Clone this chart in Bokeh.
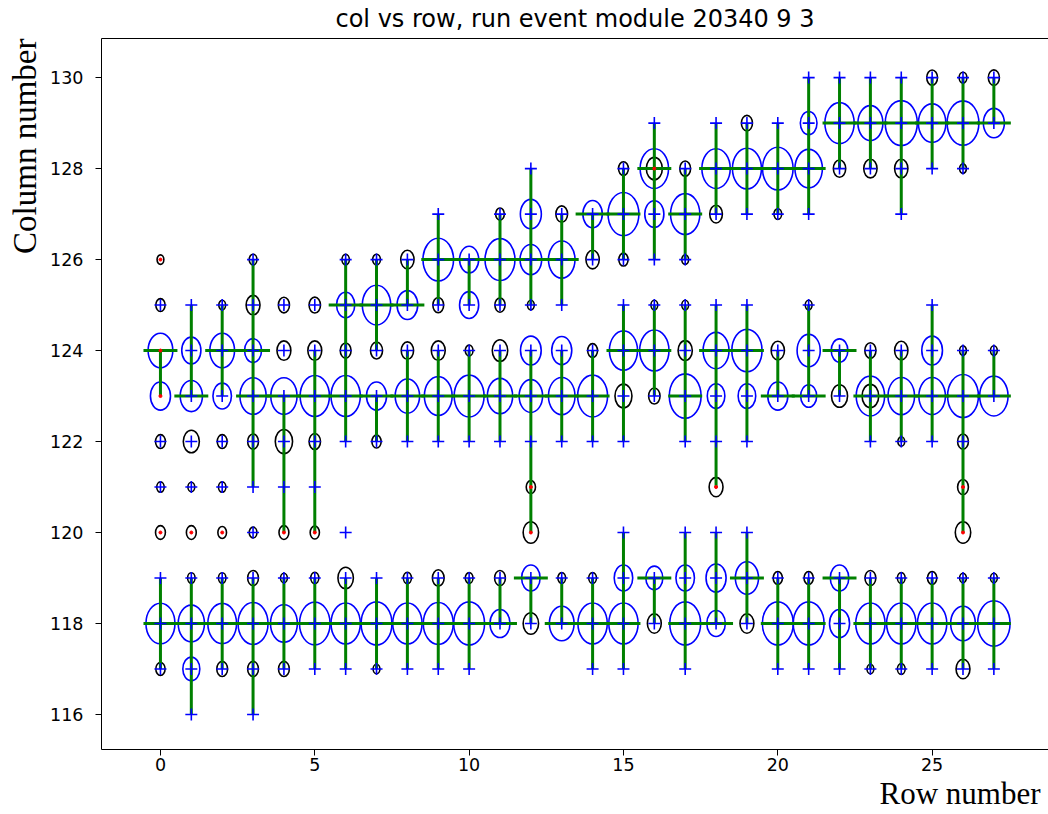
from bokeh.plotting import figure
from bokeh.models import ColumnDataSource, FixedTicker, LinearAxis, Title, Range1d
from bokeh.embed import file_html
from bokeh.resources import INLINE

TITLE = "col vs row, run event module 20340 9 3"
X_LABEL = "Row number"
Y_LABEL = "Column number"
x_ticks = [0, 5, 10, 15, 20, 25]
y_ticks = [116, 118, 120, 122, 124, 126, 128, 130]

# blue ellipses: (row, column, diameter in data units)
blue = [
    (0, 124, 0.80), (0, 123, 0.65), (0, 118, 0.94),
    (1, 124, 0.62), (1, 123, 0.72), (1, 118, 0.85), (1, 117, 0.55),
    (2, 124, 0.80), (2, 123, 0.60), (2, 118, 0.93),
    (3, 124, 0.55), (3, 123, 0.85), (3, 118, 0.97),
    (4, 123, 0.85), (4, 118, 0.87),
    (5, 123, 0.95), (5, 118, 0.99),
    (6, 125, 0.59), (6, 123, 0.95), (6, 118, 0.95),
    (7, 125, 0.92), (7, 123, 0.65), (7, 118, 1.00),
    (8, 125, 0.67), (8, 123, 0.79), (8, 118, 0.95),
    (9, 126, 0.99), (9, 123, 0.90), (9, 118, 0.97),
    (10, 126, 0.62), (10, 125, 0.62), (10, 123, 0.97), (10, 118, 1.00),
    (11, 126, 0.97), (11, 123, 0.82), (11, 118, 0.65),
    (12, 127, 0.68), (12, 126, 0.70), (12, 124, 0.67), (12, 123, 0.76), (12, 119, 0.60),
    (13, 126, 0.86), (13, 124, 0.65), (13, 123, 0.86), (13, 118, 0.80),
    (14, 127, 0.63), (14, 123, 0.97), (14, 118, 0.95),
    (15, 127, 1.00), (15, 124, 0.91), (15, 119, 0.60), (15, 118, 0.95),
    (16, 128, 0.92), (16, 127, 0.62), (16, 124, 0.95), (16, 119, 0.55),
    (17, 127, 0.95), (17, 123, 1.03), (17, 119, 0.60), (17, 118, 1.00),
    (18, 128, 0.92), (18, 124, 0.84), (18, 123, 0.57), (18, 119, 0.65), (18, 118, 0.60),
    (19, 128, 0.94), (19, 124, 0.98), (19, 123, 0.57), (19, 119, 0.75),
    (20, 128, 0.99), (20, 123, 0.65), (20, 118, 1.00),
    (21, 129, 0.54), (21, 128, 0.89), (21, 124, 0.75), (21, 123, 0.52), (21, 118, 1.00),
    (22, 129, 0.95), (22, 124, 0.54), (22, 119, 0.60), (22, 118, 0.65),
    (23, 129, 0.81), (23, 123, 0.92), (23, 118, 0.95),
    (24, 129, 1.04), (24, 123, 0.86), (24, 118, 0.95),
    (25, 129, 0.89), (25, 124, 0.67), (25, 123, 0.86), (25, 118, 0.95),
    (26, 129, 1.03), (26, 123, 1.00), (26, 118, 0.80),
    (27, 129, 0.68), (27, 123, 0.92), (27, 118, 1.05),
]

# black circles (hits): (row, column, diameter in data units)
black = [
    (0, 126, 0.22), (0, 125, 0.30), (0, 122, 0.32), (0, 121, 0.24), (0, 120, 0.32), (0, 117, 0.30),
    (1, 122, 0.52), (1, 121, 0.22), (1, 120, 0.32), (1, 119, 0.24),
    (2, 125, 0.22), (2, 122, 0.32), (2, 121, 0.24), (2, 120, 0.28), (2, 119, 0.24), (2, 117, 0.35),
    (3, 126, 0.25), (3, 125, 0.45), (3, 122, 0.35), (3, 120, 0.25), (3, 119, 0.35), (3, 117, 0.35),
    (4, 125, 0.36), (4, 124, 0.45), (4, 122, 0.56), (4, 120, 0.32), (4, 119, 0.22), (4, 117, 0.35),
    (5, 125, 0.37), (5, 124, 0.45), (5, 122, 0.37), (5, 120, 0.30), (5, 119, 0.26),
    (6, 126, 0.24), (6, 124, 0.35), (6, 119, 0.50),
    (7, 126, 0.25), (7, 124, 0.39), (7, 122, 0.30), (7, 117, 0.22),
    (8, 126, 0.43), (8, 124, 0.40), (8, 119, 0.26),
    (9, 125, 0.35), (9, 124, 0.45), (9, 119, 0.38),
    (10, 124, 0.25), (10, 119, 0.25),
    (11, 127, 0.28), (11, 125, 0.33), (11, 124, 0.50), (11, 119, 0.35),
    (12, 125, 0.22), (12, 121, 0.30), (12, 120, 0.50), (12, 118, 0.50),
    (13, 127, 0.38), (13, 119, 0.25),
    (14, 126, 0.43), (14, 124, 0.32), (14, 119, 0.25),
    (15, 128, 0.32), (15, 126, 0.30), (15, 123, 0.55),
    (16, 128, 0.52), (16, 125, 0.22), (16, 123, 0.37), (16, 118, 0.45),
    (17, 128, 0.35), (17, 126, 0.22), (17, 125, 0.22), (17, 124, 0.46),
    (18, 127, 0.41), (18, 121, 0.45),
    (19, 129, 0.36), (19, 118, 0.45),
    (20, 127, 0.25), (20, 124, 0.43), (20, 119, 0.30),
    (21, 125, 0.22), (21, 119, 0.30),
    (22, 128, 0.40), (22, 123, 0.52),
    (23, 128, 0.43), (23, 124, 0.36), (23, 123, 0.54), (23, 119, 0.35), (23, 117, 0.22),
    (24, 128, 0.43), (24, 124, 0.43), (24, 122, 0.22), (24, 119, 0.25), (24, 117, 0.25),
    (25, 130, 0.35), (25, 119, 0.30),
    (26, 130, 0.25), (26, 128, 0.22), (26, 124, 0.22), (26, 122, 0.35), (26, 121, 0.35),
    (26, 120, 0.50), (26, 119, 0.22), (26, 117, 0.45),
    (27, 130, 0.36), (27, 124, 0.22), (27, 119, 0.22),
]

# hits drawn only with a blue "+" (no visible circle): (row, column)
plus_only = [
    (0, 119), (1, 125), (1, 116), (3, 121), (3, 116), (4, 121), (5, 121), (5, 117),
    (6, 122), (6, 120), (6, 117), (7, 119), (8, 122), (8, 117),
    (9, 127), (9, 122), (9, 117), (10, 122), (10, 117), (11, 122),
    (12, 128), (12, 122), (13, 125), (13, 122), (14, 122), (14, 117),
    (15, 125), (15, 122), (15, 120), (15, 117), (16, 129), (16, 126),
    (17, 122), (17, 120), (17, 117), (18, 129), (18, 125), (18, 122), (18, 120),
    (19, 127), (19, 125), (19, 122), (19, 120), (20, 129), (20, 117),
    (21, 130), (21, 127), (21, 117), (22, 130), (22, 117), (23, 130), (23, 122),
    (24, 130), (24, 127), (25, 128), (25, 125), (25, 122), (25, 117), (27, 117),
]

# hits marked with a red dot (no "+"): (row, column)
red = [
    (0, 126), (0, 124), (0, 123), (0, 120), (1, 120), (2, 120), (4, 120), (5, 120),
    (12, 121), (12, 120), (16, 128), (18, 121), (26, 121), (26, 120),
]

# vertical green bars: (row, column low, column high)
vbars = [
    (0, 123, 124), (0, 117, 119), (1, 123, 125), (1, 116, 119),
    (2, 123, 125), (2, 117, 119), (3, 121, 126), (3, 116, 119),
    (4, 120, 123), (4, 117, 119), (5, 120, 124), (5, 117, 119),
    (6, 122, 126), (6, 117, 119), (7, 124, 126), (7, 122, 123), (7, 117, 119),
    (8, 125, 126), (8, 122, 124), (8, 117, 119), (9, 125, 127), (9, 122, 124), (9, 117, 119),
    (10, 125, 126), (10, 122, 124), (10, 117, 119), (11, 125, 127), (11, 122, 124), (11, 118, 119),
    (12, 125, 128), (12, 120, 124), (12, 118, 119), (13, 125, 127), (13, 122, 124), (13, 118, 119),
    (14, 126, 127), (14, 122, 124), (14, 117, 119), (15, 126, 128), (15, 122, 125), (15, 117, 120),
    (16, 126, 129), (16, 123, 125), (16, 118, 119), (17, 126, 128), (17, 122, 125), (17, 117, 120),
    (18, 127, 129), (18, 121, 125), (18, 118, 120), (19, 127, 129), (19, 122, 125), (19, 118, 120),
    (20, 127, 129), (20, 123, 124), (20, 117, 119), (21, 127, 130), (21, 123, 125), (21, 117, 119),
    (22, 128, 130), (22, 123, 124), (22, 117, 119), (23, 128, 130), (23, 122, 124), (23, 117, 119),
    (24, 127, 130), (24, 122, 124), (24, 117, 119), (25, 128, 130), (25, 122, 125), (25, 117, 119),
    (26, 128, 130), (26, 120, 124), (26, 117, 119), (27, 129, 130), (27, 123, 124), (27, 117, 119),
]

# horizontal green bars (cluster centres): (row, column)
hbars = [
    (0, 124), (0, 118), (1, 123), (1, 118), (2, 124), (2, 118),
    (3, 124), (3, 123), (3, 118), (4, 123), (4, 118), (5, 123), (5, 118),
    (6, 125), (6, 123), (6, 118), (7, 125), (7, 123), (7, 118),
    (8, 125), (8, 123), (8, 118), (9, 126), (9, 123), (9, 118),
    (10, 126), (10, 123), (10, 118), (11, 126), (11, 123), (11, 118),
    (12, 126), (12, 123), (12, 119), (13, 126), (13, 123), (13, 118),
    (14, 127), (14, 123), (14, 118), (15, 127), (15, 124), (15, 118),
    (16, 128), (16, 124), (16, 119), (17, 127), (17, 123), (17, 118),
    (18, 128), (18, 124), (18, 118), (19, 128), (19, 124), (19, 119),
    (20, 128), (20, 123), (20, 118), (21, 128), (21, 123), (21, 118),
    (22, 129), (22, 124), (22, 119), (23, 129), (23, 123), (23, 118),
    (24, 129), (24, 123), (24, 118), (25, 129), (25, 123), (25, 118),
    (26, 129), (26, 123), (26, 118), (27, 129), (27, 123), (27, 118),
]

HALF = 0.55      # half length of horizontal bars (row units)
ASPECT = 0.95    # ellipse height / width in data units

red_set = set(red)
plus_pos = sorted((set((r, c) for r, c, _ in blue) | set((r, c) for r, c, _ in black)
                   | set(plus_only)) - red_set)

p = figure(width=1048, height=814, output_backend="svg", toolbar_location=None,
           x_range=Range1d(-1.91, 28.77), y_range=Range1d(115.23, 130.86),
           min_border_left=101, min_border_right=0, min_border_top=38, min_border_bottom=65,
           background_fill_color="white", border_fill_color="white")
p.outline_line_color = None
p.grid.visible = False

p.title.text = TITLE
p.title.align = "center"
p.title.vertical_align = "top"
p.title.text_font = "DejaVu Sans"
p.title.text_font_size = "24px"
p.title.text_font_style = "normal"
p.title.text_color = "black"
p.title.standoff = 7

for ax in (p.xaxis[0], p.yaxis[0]):
    ax.major_label_text_font = "DejaVu Sans"
    ax.major_label_text_font_size = "17.5px"
    ax.major_label_text_color = "black"
    ax.major_tick_in = 0
    ax.major_tick_out = 6
    ax.minor_tick_line_color = None
    ax.axis_line_color = "black"
    ax.major_tick_line_color = "black"
p.xaxis[0].major_label_standoff = 2
p.yaxis[0].major_label_standoff = 12
p.xaxis[0].ticker = FixedTicker(ticks=x_ticks)
p.yaxis[0].ticker = FixedTicker(ticks=y_ticks)

top = LinearAxis(ticker=FixedTicker(ticks=[]), major_label_text_font_size="0px",
                 major_tick_line_color=None, minor_tick_line_color=None, axis_line_color="black",
                 major_label_standoff=0)
p.add_layout(top, "above")

p.add_layout(Title(text=Y_LABEL, align="right", vertical_align="top", text_font="Liberation Serif",
                   text_font_size="33px", text_font_style="normal", text_color="black",
                   standoff=5), "left")
p.add_layout(Title(text=X_LABEL, align="right", text_font="Liberation Serif",
                   text_font_size="31px", text_font_style="normal", text_color="black",
                   text_line_height=1.0, standoff=0, offset=8), "below")

bsrc = ColumnDataSource(dict(x=[b[0] for b in blue], y=[b[1] for b in blue],
                             w=[b[2] for b in blue], h=[b[2] * ASPECT for b in blue]))
ksrc = ColumnDataSource(dict(x=[b[0] for b in black], y=[b[1] for b in black],
                             w=[b[2] for b in black], h=[b[2] * ASPECT for b in black]))
p.ellipse(x="x", y="y", width="w", height="h", source=ksrc, fill_color=None,
          line_color="black", line_width=1.6)
p.ellipse(x="x", y="y", width="w", height="h", source=bsrc, fill_color=None,
          line_color="blue", line_width=1.6)

p.segment(x0=[v[0] for v in vbars], y0=[v[1] for v in vbars],
          x1=[v[0] for v in vbars], y1=[v[2] for v in vbars],
          line_color="green", line_width=3)
p.segment(x0=[h[0] - HALF for h in hbars], y0=[h[1] for h in hbars],
          x1=[h[0] + HALF for h in hbars], y1=[h[1] for h in hbars],
          line_color="green", line_width=3)

p.scatter(x=[q[0] for q in plus_pos], y=[q[1] for q in plus_pos], marker="cross",
          size=12, line_color="blue", line_width=1.6)
p.scatter(x=[q[0] for q in red], y=[q[1] for q in red], marker="circle",
          size=3, fill_color="red", line_color="red")

open("out.html", "w").write(file_html(p, INLINE))
